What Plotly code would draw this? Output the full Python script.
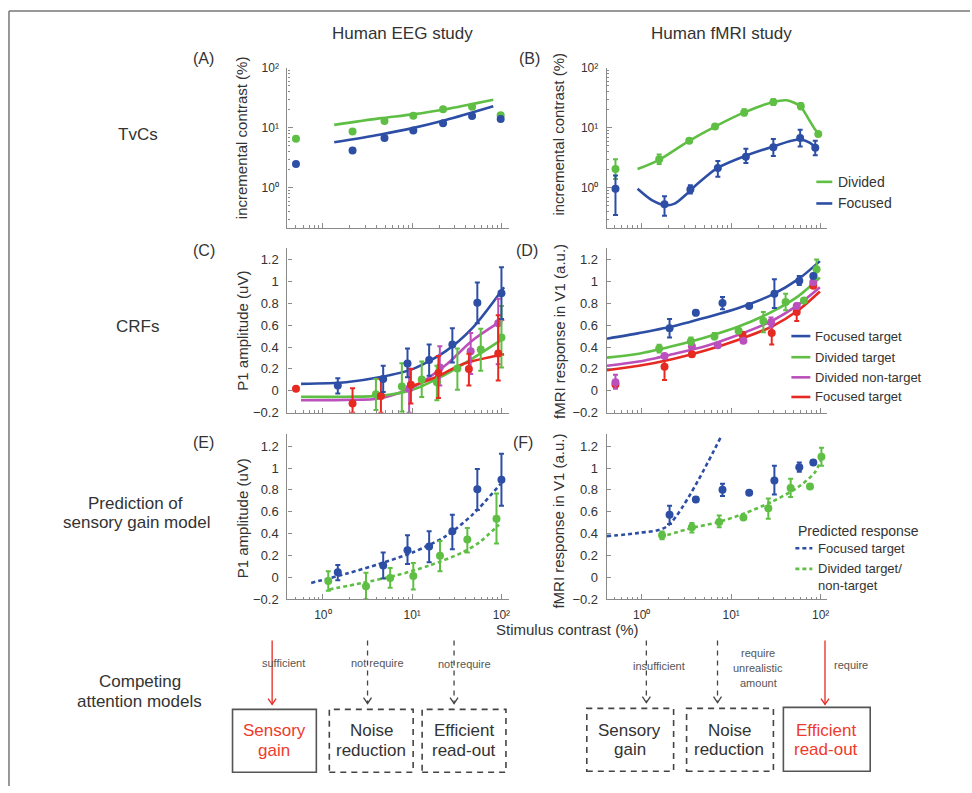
import plotly.graph_objects as go

W, H = 972, 793
FONT = "Liberation Sans, Arial, Helvetica, sans-serif"
BLUE = "#2d4ea5"
GREEN = "#5fbf44"
MAGENTA = "#bb4fbb"
RED = "#e62a22"
AXIS = "#8a8a8a"
TEXT = "#333333"
BOXRED = "#ee3b2b"

# ---------------- (A) EEG threshold-vs-contrast ----------------
eeg_tvc_contrast = [0.5, 2.15, 4.9, 10.3, 22.2, 46.9, 98]
eeg_tvc_divided = [6.6, 8.7, 13.0, 15.9, 20.5, 22.4, 16.3]
eeg_tvc_focused = [2.5, 4.2, 6.8, 9.0, 11.9, 15.7, 14.0]
eeg_tvc_fit_contrast = [1.34, 4.28, 10.1, 23.8, 81]
eeg_tvc_fit_divided = [11.2, 14.4, 16.8, 20.5, 29.5]
eeg_tvc_fit_focused = [5.75, 7.7, 9.9, 13.5, 22.9]

# ---------------- (B) fMRI threshold-vs-contrast ----------------
fmri_tvc_div_contrast = [0.51, 1.57, 3.4, 6.6, 14, 29.6, 60, 94]
fmri_tvc_divided = [2.05, 3.0, 6.1, 10.5, 18.1, 27, 23, 7.9]
fmri_tvc_divided_lo = [1.4, 2.5, 5.6, 9.7, 16, 24, 20.5, 7.3]
fmri_tvc_divided_hi = [3.0, 3.6, 6.6, 11.3, 20.5, 30, 26, 8.5]
fmri_tvc_foc_contrast = [0.51, 1.8, 3.5, 7.1, 14.6, 29.6, 59, 87]
fmri_tvc_focused = [0.96, 0.53, 0.94, 2.13, 3.3, 4.75, 6.8, 4.65]
fmri_tvc_focused_lo = [0.35, 0.34, 0.8, 1.53, 2.6, 3.4, 4.9, 3.5]
fmri_tvc_focused_hi = [1.6, 0.72, 1.1, 2.8, 4.5, 6.5, 9.3, 6.1]
fmri_tvc_fit_div_contrast = [0.9, 1.55, 3.35, 6.6, 14, 29.6, 41.7, 58.8, 72.6, 87, 98]
fmri_tvc_fit_divided = [2.05, 2.9, 6.0, 10.5, 18.1, 27, 28.8, 23.2, 14.4, 9.3, 7.7]
fmri_tvc_fit_foc_contrast = [0.9, 1.3, 1.84, 2.37, 3.07, 3.64, 5.13, 7.2, 14.3, 29.6,
                             47.3, 61.3, 76, 88.6]
fmri_tvc_fit_focused = [0.96, 0.62, 0.51, 0.55, 0.75, 0.96, 1.5, 2.18, 3.4, 4.9,
                        6.1, 6.35, 5.6, 4.65]

# ---------------- (C)/(E) EEG P1 amplitude ----------------
eeg_foc_contrast = [1.47, 4.74, 8.87, 15.5, 28.2, 53.7, 100]
eeg_foc_p1 = [0.048, 0.108, 0.249, 0.282, 0.422, 0.805, 0.892]
eeg_foc_lo = [-0.026, -0.011, 0.123, 0.138, 0.258, 0.617, 0.656]
eeg_foc_hi = [0.114, 0.228, 0.386, 0.422, 0.572, 0.99, 1.13]

eeg_div_contrast = [3.93, 7.67, 12.8, 18.9, 32.1, 58.6, 100]
eeg_div_p1 = [-0.032, 0.039, 0.102, 0.078, 0.204, 0.377, 0.488]
eeg_div_lo = [-0.176, -0.191, -0.056, -0.086, 0.01, 0.183, 0.213]
eeg_div_hi = [0.108, 0.252, 0.267, 0.228, 0.386, 0.566, 0.775]

eeg_nontarget_contrast = [9.25, 20.4, 45.2, 92]
eeg_nontarget_p1 = [0.018, 0.213, 0.362, 0.617]
eeg_nontarget_lo = [-0.2, 0.048, 0.153, 0.243]
eeg_nontarget_hi = [0.204, 0.407, 0.527, 0.841]

eeg_focnt_contrast = [0.5, 2.15, 4.47, 9.68, 19.7, 43.2, 92]
eeg_focnt_p1 = [0.018, -0.116, -0.047, 0.054, 0.162, 0.198, 0.341]
eeg_focnt_lo = [0.018, -0.2, -0.2, -0.116, -0.065, 0.048, 0.093]
eeg_focnt_hi = [0.018, 0.024, 0.108, 0.198, 0.318, 0.339, 0.691]

eeg_fit_contrast = [0.57, 1.82, 4.28, 10.1, 23.8, 47.2, 107]
eeg_fit_focused = [0.063, 0.078, 0.123, 0.198, 0.362, 0.572, 0.946]
eeg_fit_divided = [-0.056, -0.054, -0.047, 0.01, 0.15, 0.295, 0.482]
eeg_fit_nontarget = [-0.086, -0.083, -0.071, 0.03, 0.235, 0.46, 0.655]
eeg_fit_focnt_contrast = [9.25, 18.4, 36.5, 107]
eeg_fit_focnt = [0.033, 0.123, 0.243, 0.333]

# (E) EEG divided target data and sensory-gain predictions
eeg_div2_contrast = [1.15, 3.04, 5.67, 10.3, 20.5, 41.5, 88]
eeg_div2_p1 = [-0.032, -0.08, -0.006, 0.012, 0.198, 0.347, 0.536]
eeg_div2_lo = [-0.122, -0.2, -0.095, -0.11, 0.057, 0.228, 0.309]
eeg_div2_hi = [0.057, 0.042, 0.087, 0.132, 0.333, 0.452, 0.766]
eeg_pred_foc_contrast = [0.74, 1.82, 4.28, 10.1, 23.8, 47.2, 98]
eeg_pred_focused = [-0.05, 0.033, 0.123, 0.228, 0.377, 0.572, 0.856]
eeg_pred_div_contrast = [1.18, 2.78, 6.58, 15.5, 36.5, 56, 93.8]
eeg_pred_divided = [-0.11, -0.05, 0.018, 0.108, 0.228, 0.318, 0.482]

# ---------------- (D)/(F) fMRI V1 response ----------------
fmri_foc_contrast = [2.05, 4.03, 8.0, 15.9, 30.4, 57.7, 82.7]
fmri_foc_resp = [0.572, 0.712, 0.802, 0.775, 0.886, 1.006, 1.05]
fmri_foc_lo = [0.488, 0.69, 0.745, 0.76, 0.757, 0.967, 1.03]
fmri_foc_hi = [0.656, 0.735, 0.856, 0.79, 1.02, 1.05, 1.07]

fmri_div_contrast = [1.57, 3.55, 6.5, 12.1, 22.9, 40.6, 65, 90]
fmri_div_resp = [0.386, 0.452, 0.497, 0.548, 0.638, 0.811, 0.826, 1.11]
fmri_div_lo = [0.35, 0.42, 0.47, 0.53, 0.536, 0.736, 0.81, 1.02]
fmri_div_hi = [0.42, 0.487, 0.527, 0.565, 0.721, 0.886, 0.845, 1.2]

fmri_nontarget_contrast = [0.51, 1.8, 3.64, 7.1, 13.7, 27.9, 54, 82.7]
fmri_nontarget_resp = [0.078, 0.318, 0.407, 0.416, 0.458, 0.626, 0.775, 0.991]
fmri_nontarget_lo = [0.018, 0.3, 0.39, 0.4, 0.44, 0.58, 0.755, 0.97]
fmri_nontarget_hi = [0.147, 0.335, 0.425, 0.43, 0.475, 0.67, 0.795, 1.01]

fmri_focnt_contrast = [0.51, 1.8, 3.64, 13.4, 28.4, 54, 82.7]
fmri_focnt_resp = [0.057, 0.219, 0.333, 0.512, 0.527, 0.721, 0.961]
fmri_focnt_lo = [0.03, 0.099, 0.31, 0.49, 0.422, 0.638, 0.94]
fmri_focnt_hi = [0.08, 0.333, 0.355, 0.535, 0.632, 0.796, 0.98]

fmri_fit_contrast = [0.41, 0.93, 2.18, 5.13, 12.1, 28.4, 56.3, 98]
fmri_fit_focused = [0.476, 0.527, 0.587, 0.668, 0.757, 0.877, 1.02, 1.185]
fmri_fit_divided = [0.303, 0.339, 0.407, 0.488, 0.587, 0.721, 0.865, 1.035]
fmri_fit_nontarget = [0.228, 0.267, 0.333, 0.407, 0.512, 0.638, 0.787, 0.946]
fmri_fit_focnt = [0.189, 0.228, 0.288, 0.368, 0.467, 0.587, 0.736, 0.907]

# (F) fMRI divided target data and sensory-gain predictions
fmri_div2_contrast = [1.69, 3.64, 7.35, 13.7, 26, 46.2, 76, 102]
fmri_div2_resp = [0.386, 0.458, 0.506, 0.548, 0.632, 0.817, 0.832, 1.104]
fmri_div2_lo = [0.35, 0.41, 0.458, 0.535, 0.536, 0.736, 0.815, 1.02]
fmri_div2_hi = [0.42, 0.497, 0.566, 0.56, 0.721, 0.901, 0.85, 1.185]
fmri_pred_foc_contrast = [0.41, 0.93, 1.92, 7.73]
fmri_pred_focused = [0.377, 0.407, 0.467, 1.29]
fmri_pred_div_contrast = [1.62, 3.64, 7.2, 14.3, 28.4, 56.3, 86.3, 102]
fmri_pred_divided = [0.368, 0.452, 0.506, 0.587, 0.691, 0.826, 0.961, 1.086]

# tick labels
log_tick_vals = [1, 10, 100]
log_tick_text = ["10\u2070", "10\u00b9", "10\u00b2"]
lin_tick_vals = [-0.2, 0, 0.2, 0.4, 0.6, 0.8, 1.0, 1.2]
lin_tick_text = ["\u22120.2", "0", "0.2", "0.4", "0.6", "0.8", "1", "1.2"]


def fx(px):
    return px / W


def fy(py):
    return 1 - py / H


fig = go.Figure()


def add_points(ax, x, y, lo, hi, color):
    fig.add_trace(go.Scatter(
        x=x, y=y, mode="markers", xaxis="x" + ax, yaxis="y" + ax,
        marker=dict(color=color, size=8, line=dict(width=0)),
        error_y=dict(type="data", symmetric=False,
                     array=[h - v for h, v in zip(hi, y)],
                     arrayminus=[v - l for v, l in zip(y, lo)],
                     color=color, thickness=2, width=2.5),
        showlegend=False, hoverinfo="skip"))


def add_plain_points(ax, x, y, color):
    fig.add_trace(go.Scatter(
        x=x, y=y, mode="markers", xaxis="x" + ax, yaxis="y" + ax,
        marker=dict(color=color, size=8, line=dict(width=0)),
        showlegend=False, hoverinfo="skip"))


def add_curve(ax, x, y, color, dash="solid", shape="spline"):
    fig.add_trace(go.Scatter(
        x=x, y=y, mode="lines", xaxis="x" + ax, yaxis="y" + ax,
        line=dict(color=color, width=2.6, dash=dash, shape=shape,
                  smoothing=0.8),
        showlegend=False, hoverinfo="skip"))


# (A)
add_curve("", eeg_tvc_fit_contrast, eeg_tvc_fit_divided, GREEN)
add_curve("", eeg_tvc_fit_contrast, eeg_tvc_fit_focused, BLUE)
add_plain_points("", eeg_tvc_contrast, eeg_tvc_divided, GREEN)
add_plain_points("", eeg_tvc_contrast, eeg_tvc_focused, BLUE)

# (B)
add_curve("2", fmri_tvc_fit_div_contrast, fmri_tvc_fit_divided, GREEN)
add_curve("2", fmri_tvc_fit_foc_contrast, fmri_tvc_fit_focused, BLUE)
add_points("2", fmri_tvc_div_contrast, fmri_tvc_divided,
           fmri_tvc_divided_lo, fmri_tvc_divided_hi, GREEN)
add_points("2", fmri_tvc_foc_contrast, fmri_tvc_focused,
           fmri_tvc_focused_lo, fmri_tvc_focused_hi, BLUE)

# (C)
add_curve("3", eeg_fit_contrast, eeg_fit_nontarget, MAGENTA)
add_curve("3", eeg_fit_contrast, eeg_fit_divided, GREEN)
add_curve("3", eeg_fit_focnt_contrast, eeg_fit_focnt, RED)
add_curve("3", eeg_fit_contrast, eeg_fit_focused, BLUE)
add_points("3", eeg_nontarget_contrast, eeg_nontarget_p1,
           eeg_nontarget_lo, eeg_nontarget_hi, MAGENTA)
add_points("3", eeg_div_contrast, eeg_div_p1, eeg_div_lo, eeg_div_hi, GREEN)
add_points("3", eeg_focnt_contrast, eeg_focnt_p1, eeg_focnt_lo, eeg_focnt_hi, RED)
add_points("3", eeg_foc_contrast, eeg_foc_p1, eeg_foc_lo, eeg_foc_hi, BLUE)

# (D)
add_curve("4", fmri_fit_contrast, fmri_fit_focnt, RED)
add_curve("4", fmri_fit_contrast, fmri_fit_nontarget, MAGENTA)
add_curve("4", fmri_fit_contrast, fmri_fit_divided, GREEN)
add_curve("4", fmri_fit_contrast, fmri_fit_focused, BLUE)
add_points("4", fmri_focnt_contrast, fmri_focnt_resp, fmri_focnt_lo, fmri_focnt_hi, RED)
add_points("4", fmri_nontarget_contrast, fmri_nontarget_resp,
           fmri_nontarget_lo, fmri_nontarget_hi, MAGENTA)
add_points("4", fmri_div_contrast, fmri_div_resp, fmri_div_lo, fmri_div_hi, GREEN)
add_points("4", fmri_foc_contrast, fmri_foc_resp, fmri_foc_lo, fmri_foc_hi, BLUE)

# (E)
add_curve("5", eeg_pred_foc_contrast, eeg_pred_focused, BLUE, dash="4px,3px")
add_curve("5", eeg_pred_div_contrast, eeg_pred_divided, GREEN, dash="4px,3px")
add_points("5", eeg_div2_contrast, eeg_div2_p1, eeg_div2_lo, eeg_div2_hi, GREEN)
add_points("5", eeg_foc_contrast, eeg_foc_p1, eeg_foc_lo, eeg_foc_hi, BLUE)

# (F)
add_curve("6", fmri_pred_foc_contrast, fmri_pred_focused, BLUE, dash="4px,3px")
add_curve("6", fmri_pred_div_contrast, fmri_pred_divided, GREEN, dash="4px,3px")
add_points("6", fmri_div2_contrast, fmri_div2_resp, fmri_div2_lo, fmri_div2_hi, GREEN)
add_points("6", fmri_foc_contrast, fmri_foc_resp, fmri_foc_lo, fmri_foc_hi, BLUE)


# ---------------- axes ----------------
def minor_log(lo, hi):
    vals = []
    for e in range(lo, hi):
        for k in range(2, 10):
            vals.append(k * 10 ** e)
    return dict(ticks="inside", ticklen=2.5, tickwidth=1, tickcolor=AXIS,
                tickmode="array", tickvals=vals, showgrid=False)


def x_axis(domain, rng, anchor, labels):
    return dict(type="log", domain=domain, range=rng, anchor=anchor,
                showline=True, linecolor=AXIS, linewidth=1.2,
                ticks="inside", ticklen=5, tickwidth=1, tickcolor=AXIS,
                tickmode="array", tickvals=log_tick_vals, ticktext=log_tick_text,
                showticklabels=labels, ticklabelstandoff=4,
                tickfont=dict(family=FONT, size=12, color=TEXT),
                minor=minor_log(-1, 3), showgrid=False, zeroline=False)


def y_log_axis(domain, anchor):
    return dict(type="log", domain=domain, range=[-0.672, 2.0005], anchor=anchor,
                showline=True, linecolor=AXIS, linewidth=1.2,
                ticks="inside", ticklen=5, tickwidth=1, tickcolor=AXIS,
                tickmode="array", tickvals=log_tick_vals, ticktext=log_tick_text,
                ticklabelstandoff=5,
                tickfont=dict(family=FONT, size=12, color=TEXT),
                minor=minor_log(-1, 2), showgrid=False, zeroline=False)


def y_lin_axis(domain, anchor):
    return dict(type="linear", domain=domain, range=[-0.2005, 1.308], anchor=anchor,
                showline=True, linecolor=AXIS, linewidth=1.2,
                ticks="inside", ticklen=4, tickwidth=1, tickcolor=AXIS,
                tickmode="array", tickvals=lin_tick_vals, ticktext=lin_tick_text,
                ticklabelstandoff=5,
                tickfont=dict(family=FONT, size=13, color=TEXT),
                showgrid=False, zeroline=False)


left_dom = [fx(288), fx(510)]
right_dom = [fx(608), fx(829)]
left_rng = [-0.397, 2.084]
right_rng = [-0.39, 2.074]
row1 = [fy(225), fy(62)]
row2 = [fy(413), fy(245)]
row3 = [fy(603), fy(435)]

layout = dict(
    width=W, height=H, margin=dict(l=0, r=0, t=0, b=0),
    paper_bgcolor="white", plot_bgcolor="white",
    font=dict(family=FONT, color=TEXT),
    showlegend=False,
    xaxis=x_axis(left_dom, left_rng, "y", False),
    yaxis=y_log_axis(row1, "x"),
    xaxis2=x_axis(right_dom, right_rng, "y2", False),
    yaxis2=y_log_axis(row1, "x2"),
    xaxis3=x_axis(left_dom, left_rng, "y3", False),
    yaxis3=y_lin_axis(row2, "x3"),
    xaxis4=x_axis(right_dom, right_rng, "y4", False),
    yaxis4=y_lin_axis(row2, "x4"),
    xaxis5=x_axis(left_dom, left_rng, "y5", True),
    yaxis5=y_lin_axis(row3, "x5"),
    xaxis6=x_axis(right_dom, right_rng, "y6", True),
    yaxis6=y_lin_axis(row3, "x6"),
)
fig.update_layout(**layout)

# ---------------- text ----------------
annotations = []


def text(px, py, s, size, color=TEXT, xanchor="center", yanchor="middle",
         angle=0, align="center"):
    annotations.append(dict(
        x=fx(px), y=fy(py), xref="paper", yref="paper", text=s,
        showarrow=False, xanchor=xanchor, yanchor=yanchor, textangle=angle,
        align=align, font=dict(family=FONT, size=size, color=color)))


text(403, 27, "Human EEG study", 17)
text(723, 27, "Human fMRI study", 17)

text(204, 52, "(A)", 16)
text(531, 52, "(B)", 16)
text(204, 248, "(C)", 16)
text(528, 248, "(D)", 16)
text(204, 443, "(E)", 16)
text(524, 443, "(F)", 16)

text(138, 130, "TvCs", 17)
text(138, 325, "CRFs", 17)
text(136, 505, "Prediction of", 17)
text(137, 525, "sensory gain model", 17)
text(140, 687, "Competing", 17)
text(140, 707, "attention models", 17)

text(242, 133, "incremental contrast (%)", 15, angle=-90)
text(560, 129, "incremental contrast (%)", 15, angle=-90)
text(243, 330, "P1 amplitude (uV)", 15, angle=-90)
text(560, 330, "fMRI response in V1 (a.u.)", 15, angle=-90)
text(243, 521, "P1 amplitude (uV)", 15, angle=-90)
text(560, 523, "fMRI response in V1 (a.u.)", 15, angle=-90)

text(569, 634, "Stimulus contrast (%)", 15)

# legend of (B)
text(838, 178, "Divided", 14, xanchor="left")
text(838, 200, "Focused", 14, xanchor="left")
# legend of (D)
text(815, 335, "Focused target", 13, xanchor="left")
text(815, 356.5, "Divided target", 13, xanchor="left")
text(815, 377, "Divided non-target", 13, xanchor="left")
text(815, 397, "Focused target", 13, xanchor="left")
# legend of (F)
text(798, 533, "Predicted response", 14, xanchor="left")
text(818, 551, "Focused target", 13, xanchor="left")
text(818, 572, "Divided target/", 13, xanchor="left")
text(818, 589, "non-target", 13, xanchor="left")

# model boxes (two lines each)
for cx, top, bottom, color in [
        (275, "Sensory", "gain", BOXRED),
        (372, "Noise", "reduction", TEXT),
        (465, "Efficient", "read-out", TEXT)]:
    text(cx, 737, top, 17, color=color)
    text(cx, 757, bottom, 17, color=color)
for cx, top, bottom, color in [
        (631, "Sensory", "gain", TEXT),
        (731, "Noise", "reduction", TEXT),
        (828, "Efficient", "read-out", BOXRED)]:
    text(cx, 736, top, 17, color=color)
    text(cx, 756, bottom, 17, color=color)

# arrow captions
CAP = "#555555"
text(284, 668, "sufficient", 11, color=CAP)
text(378, 668, "not require", 11, color=CAP)
text(465, 669, "not require", 11, color=CAP)
text(660, 671, "insufficient", 11, color=CAP)
text(760, 658, "require", 11, color=CAP)
text(760, 673, "unrealistic", 11, color=CAP)
text(760, 688, "amount", 11, color=CAP)
text(853, 670, "require", 11, color=CAP)

fig.update_layout(annotations=annotations)

# ---------------- shapes ----------------
shapes = []


def line(x0, y0, x1, y1, color, width=1.5, dash="solid"):
    shapes.append(dict(type="line", xref="paper", yref="paper",
                       x0=fx(x0), y0=fy(y0), x1=fx(x1), y1=fy(y1),
                       line=dict(color=color, width=width, dash=dash)))


def rect(x0, y0, x1, y1, color, width=1.6, dash="solid"):
    shapes.append(dict(type="rect", xref="paper", yref="paper",
                       x0=fx(x0), y0=fy(y1), x1=fx(x1), y1=fy(y0),
                       line=dict(color=color, width=width, dash=dash),
                       fillcolor="rgba(0,0,0,0)"))


def arrow(px, y0, y1, color, dash="solid"):
    line(px, y0, px, y1, color, width=1.3, dash=dash)
    path = "M {:.5f},{:.5f} L {:.5f},{:.5f} L {:.5f},{:.5f}".format(
        fx(px - 4), fy(y1 - 6), fx(px), fy(y1), fx(px + 4), fy(y1 - 6))
    shapes.append(dict(type="path", xref="paper", yref="paper", path=path,
                       line=dict(color=color, width=1.3)))


# outer frame
line(9, 4, 972, 4, "#777777", width=1.5)
line(9, 4, 9, 793, "#777777", width=1.5)

# legend keys
line(818, 178, 834, 178, GREEN, width=2.6)
line(818, 200, 834, 200, BLUE, width=2.6)
line(793, 335, 812, 335, BLUE, width=2.6)
line(793, 356.5, 812, 356.5, GREEN, width=2.6)
line(793, 377, 812, 377, MAGENTA, width=2.6)
line(793, 397, 812, 397, RED, width=2.6)
line(797, 551, 814, 551, BLUE, width=2.6, dash="4px,3px")
line(797, 572, 814, 572, GREEN, width=2.6, dash="4px,3px")

# model diagram
DARK = "#555555"
arrow(272.7, 645, 710, RED)
arrow(368.3, 645, 709, "#444444", dash="5px,5px")
arrow(455, 645, 709, "#444444", dash="5px,5px")
rect(233, 715, 317, 779, DARK)
rect(330, 715, 414, 779, "#444444", dash="6px,5px")
rect(423, 715, 507, 779, "#444444", dash="6px,5px")

arrow(647.7, 645, 708, "#444444", dash="5px,5px")
arrow(719, 645, 708, "#444444", dash="5px,5px")
arrow(826.7, 645, 710, RED)
rect(588, 714, 675, 778, "#444444", dash="6px,5px")
rect(688, 714, 775, 778, "#444444", dash="6px,5px")
rect(785, 713, 872, 778, DARK)

fig.update_layout(shapes=shapes)

fig.write_html("out.html")
